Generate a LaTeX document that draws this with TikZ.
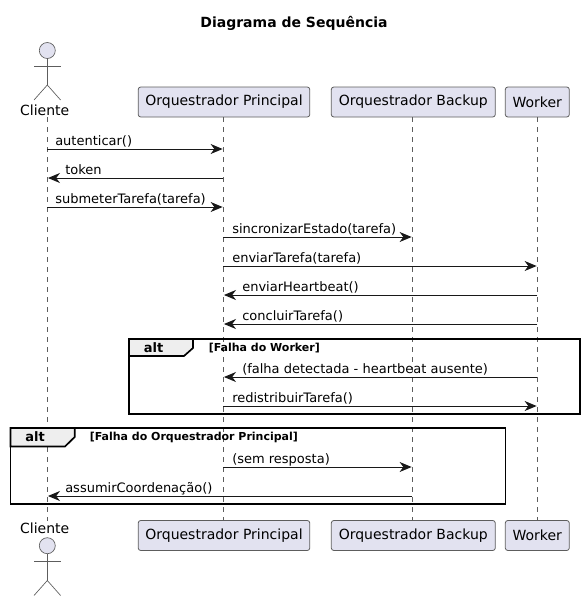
\documentclass[tikz,border=0pt]{standalone}
\usepackage{fontspec}
\setmainfont{DejaVu Sans}
\usepackage{tikz}
\usetikzlibrary{arrows.meta}
\definecolor{partfill}{HTML}{E2E2F0}
\definecolor{partline}{HTML}{181818}
\definecolor{tabfill}{HTML}{EEEEEE}
\tikzstyle{part}=[shape=rectangle,draw=partline!70,fill=partfill,rounded corners=1.9pt,line width=0.6pt,minimum height=22.5pt,inner sep=0pt,font=\fontsize{10.5}{12}\selectfont]
\tikzstyle{head}=[shape=circle,draw=partline!70,fill=partfill,line width=0.5pt,minimum size=12pt,inner sep=0pt]
\tikzstyle{limb}=[draw=partline!70,line width=0.5pt]
\tikzstyle{life}=[draw=partline!70,line width=0.4pt,dash pattern=on 3.75pt off 3.75pt]
\tikzstyle{msg}=[-{Stealth[length=9pt,width=7.5pt,inset=2.8pt]},draw=partline,line width=0.75pt,shorten >=0.5pt]
\tikzstyle{lbl}=[anchor=base west,inner sep=0pt,text=black,font=\fontsize{9.75}{12}\selectfont]
\tikzstyle{frm}=[draw=black,line width=1.25pt]
\tikzstyle{tab}=[draw=black,fill=tabfill,line width=1.25pt]
\tikzstyle{guard}=[anchor=base west,inner sep=0pt,font=\bfseries\fontsize{8.25}{10}\selectfont]
\tikzstyle{alt}=[inner sep=0pt,font=\bfseries\fontsize{9.75}{12}\selectfont]
\begin{document}
\begin{tikzpicture}[x=0.75pt,y=-0.75pt]
        \useasboundingbox (0,0) rectangle (584,601);
        \node[inner sep=0pt,font=\bfseries\fontsize{10.5}{13}\selectfont] (title) at (294,23) {Diagrama de Sequência};
        % top row
        \node[inner sep=0pt,font=\fontsize{10.5}{12}\selectfont] (C) at (44.7,110) {Cliente};
        \node[part,minimum width=128.7pt] (P) at (224,102) {Orquestrador Principal};
        \node[part,minimum width=123pt] (B) at (413.3,102) {Orquestrador Backup};
        \node[part,minimum width=48pt] (W) at (537.3,102) {Worker};
        % bottom row
        \node[inner sep=0pt,font=\fontsize{10.5}{12}\selectfont] (C2) at (44.7,528) {Cliente};
        \node[part,minimum width=128.7pt] (P2) at (224,535.5) {Orquestrador Principal};
        \node[part,minimum width=123pt] (B2) at (413.3,535.5) {Orquestrador Backup};
        \node[part,minimum width=48pt] (W2) at (537.3,535.5) {Worker};
        % lifelines
        \coordinate (Ct) at (47.3,117);
        \coordinate (Cb) at (47.3,521);
        \draw[life] (Ct) -- (Cb);
        \coordinate (Pt) at (223.3,117);
        \coordinate (Pb) at (223.3,520.5);
        \draw[life] (Pt) -- (Pb);
        \coordinate (Bt) at (412.3,117);
        \coordinate (Bb) at (412.3,520.5);
        \draw[life] (Bt) -- (Bb);
        \draw[life] (W) -- (W2);
        % actors
        \node[head] (H) at (47.3,50.5) {};
        \coordinate (Hh) at (47.3,85);
        \coordinate (Ha) at (34,66);
        \coordinate (Hb) at (60.6,66);
        \coordinate (Hl) at (34,100);
        \coordinate (Hr) at (60.6,100);
        \draw[limb] (H) -- (Hh);
        \draw[limb] (Ha) -- (Hb);
        \draw[limb] (Hl) -- (Hh) -- (Hr);
        \node[head] (H2) at (47.3,545.7) {};
        \coordinate (Kh) at (47.3,580.5);
        \coordinate (Ka) at (34,561);
        \coordinate (Kb) at (60.6,561);
        \coordinate (Kl) at (34,595.5);
        \coordinate (Kr) at (60.6,595.5);
        \draw[limb] (H2) -- (Kh);
        \draw[limb] (Ka) -- (Kb);
        \draw[limb] (Kl) -- (Kh) -- (Kr);
        % first frame
        \draw[frm] (129,339) rectangle (580,414);
        \draw[tab] (129,339) -- (193,339) -- (193,348) -- (184,356) -- (129,356) -- cycle;
        \node[alt] (alt1) at (153.5,348) {alt};
        \node[guard] (g1) at (208.5,351) {[Falha do Worker]};
        % second frame
        \draw[frm] (10.5,428) rectangle (505.5,504);
        \draw[tab] (10.5,428) -- (74.7,428) -- (74.7,437) -- (65,446.5) -- (10.5,446.5) -- cycle;
        \node[alt] (alt2) at (35,437) {alt};
        \node[guard] (g2) at (89.5,440.5) {[Falha do Orquestrador Principal]};
        % messages
        \coordinate (a1) at (47.3,149);
        \coordinate (a2) at (223.3,149);
        \draw[msg] (a1) -- (a2);
        \node[lbl] (t1) at (55,145) {autenticar()};
        \coordinate (b1) at (223.3,178);
        \coordinate (b2) at (47.3,178);
        \draw[msg] (b1) -- (b2);
        \node[lbl] (t2) at (65,174) {token};
        \coordinate (c1) at (47.3,207);
        \coordinate (c2) at (223.3,207);
        \draw[msg] (c1) -- (c2);
        \node[lbl] (t3) at (55,203) {submeterTarefa(tarefa)};
        \coordinate (d1) at (223.3,237);
        \coordinate (d2) at (412.3,237);
        \draw[msg] (d1) -- (d2);
        \node[lbl] (t4) at (232,233) {sincronizarEstado(tarefa)};
        \coordinate (e1) at (223.3,266);
        \coordinate (e2) at (537.3,266);
        \draw[msg] (e1) -- (e2);
        \node[lbl] (t5) at (232,262) {enviarTarefa(tarefa)};
        \coordinate (f1) at (537.3,295);
        \coordinate (f2) at (223.3,295);
        \draw[msg] (f1) -- (f2);
        \node[lbl] (t6) at (242,291) {enviarHeartbeat()};
        \coordinate (g3) at (537.3,324);
        \coordinate (g4) at (223.3,324);
        \draw[msg] (g3) -- (g4);
        \node[lbl] (t7) at (242,320) {concluirTarefa()};
        \coordinate (h1) at (537.3,377);
        \coordinate (h2) at (223.3,377);
        \draw[msg] (h1) -- (h2);
        \node[lbl] (t8) at (242,373) {(falha detectada - heartbeat ausente)};
        \coordinate (i1) at (223.3,406);
        \coordinate (i2) at (537.3,406);
        \draw[msg] (i1) -- (i2);
        \node[lbl] (t9) at (232,402) {redistribuirTarefa()};
        \coordinate (j1) at (223.3,467);
        \coordinate (j2) at (412.3,467);
        \draw[msg] (j1) -- (j2);
        \node[lbl] (t10) at (232,463) {(sem resposta)};
        \coordinate (k1) at (412.3,496);
        \coordinate (k2) at (47.3,496);
        \draw[msg] (k1) -- (k2);
        \node[lbl] (t11) at (65,492) {assumirCoordenação()};
    \end{tikzpicture}
\end{document}
